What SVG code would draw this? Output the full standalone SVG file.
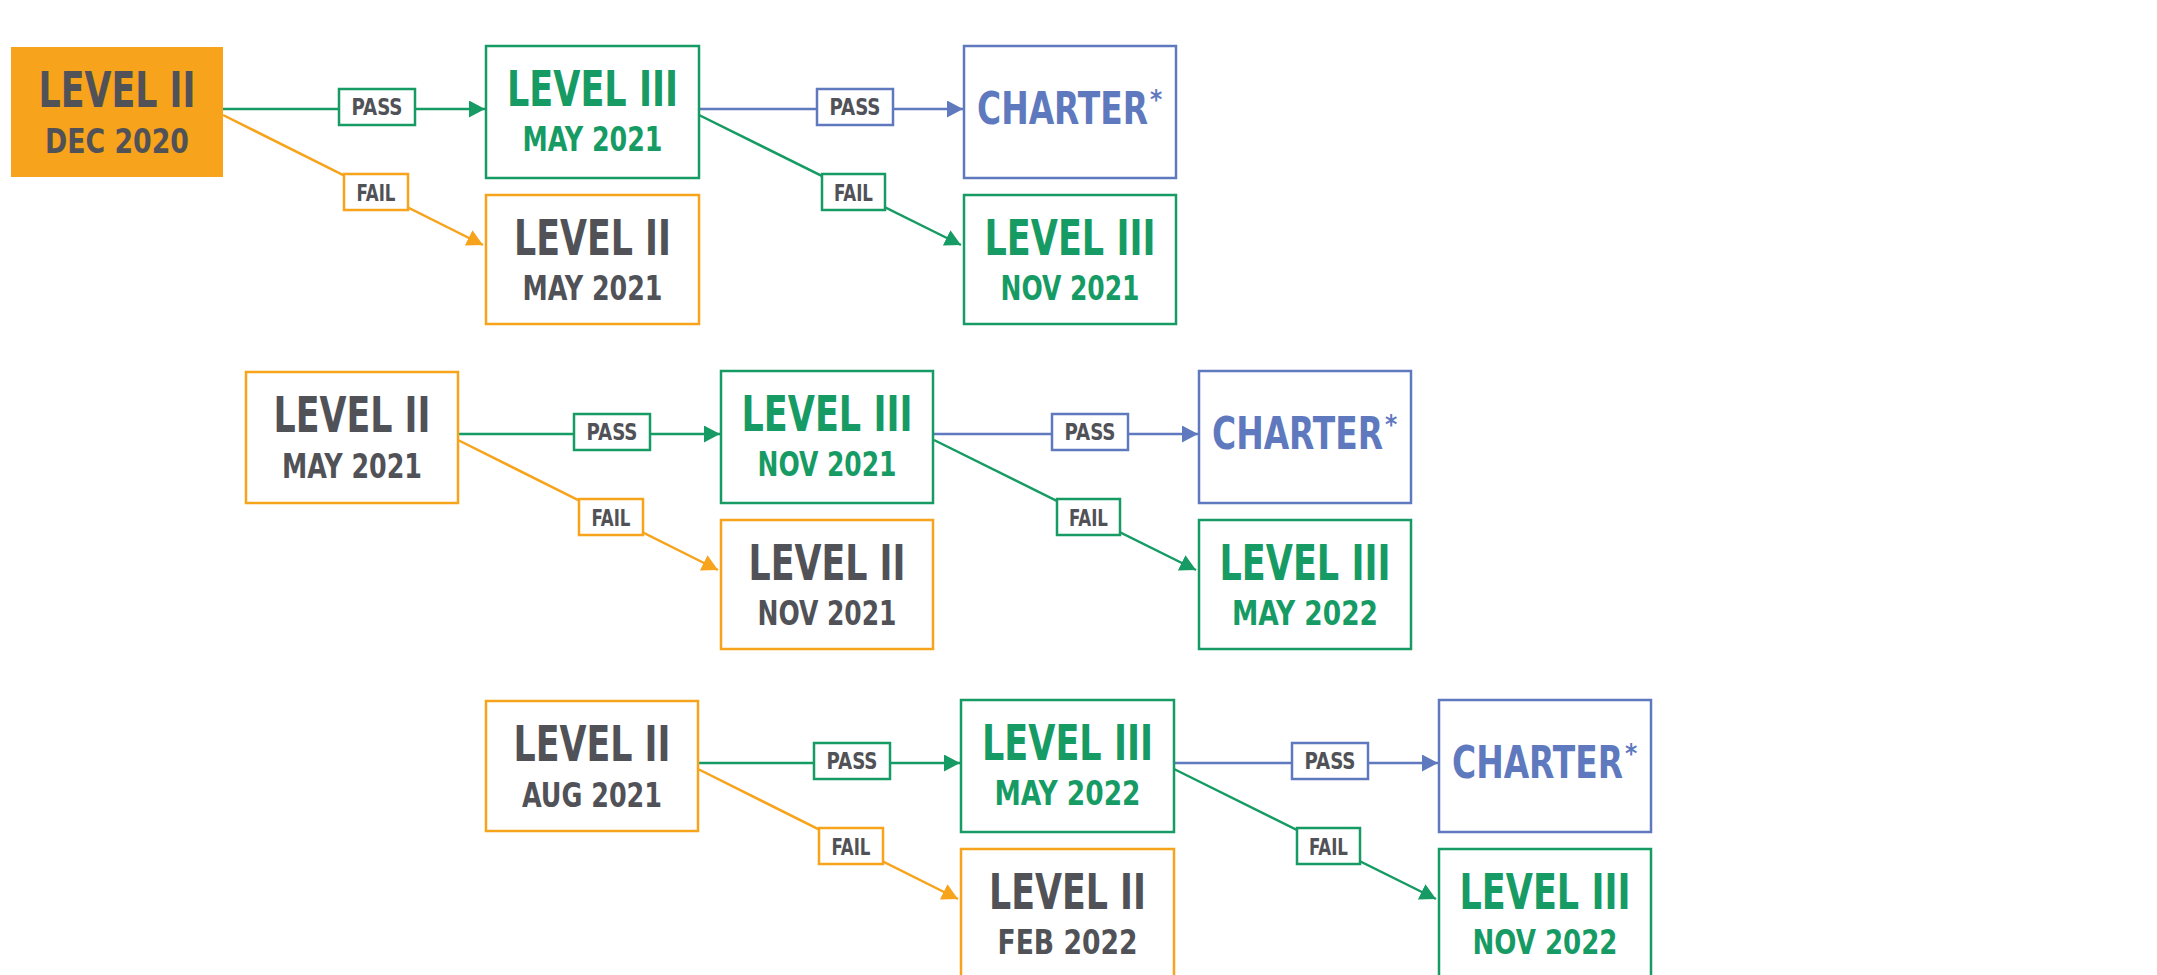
<svg xmlns="http://www.w3.org/2000/svg" width="2157" height="975" viewBox="0 0 2157 975">
<style>
.bg{fill:#ffffff}
.box{fill:#ffffff;stroke-width:2.5}
.o{stroke:#F7A31C}
.g{stroke:#169B64}
.b{stroke:#5F79BF}
.filled{fill:#F7A31C;stroke:none}
.t{font-family:"Liberation Sans Narrow","DejaVu Sans Condensed","Liberation Sans",sans-serif;font-weight:bold;text-anchor:middle}
.big{font-size:49px}
.date{font-size:34px}
.ch{font-size:44px;text-anchor:start;fill:#5F79BF}
.ast{font-size:26px;text-anchor:start;fill:#5F79BF}
.lab{font-size:23px;fill:#505257}
.gray{fill:#505257}
.green{fill:#169B64}
.line{fill:none;stroke-width:2.5}
</style>
<defs>
<marker id="ag" markerUnits="userSpaceOnUse" markerWidth="17" markerHeight="18" refX="16" refY="8.5" orient="auto"><path d="M0,0 L16,8.5 L0,17 z" fill="#169B64"/></marker>
<marker id="ao" markerUnits="userSpaceOnUse" markerWidth="17" markerHeight="18" refX="16" refY="8.5" orient="auto"><path d="M0,0 L16,8.5 L0,17 z" fill="#F7A31C"/></marker>
<marker id="ab" markerUnits="userSpaceOnUse" markerWidth="17" markerHeight="18" refX="16" refY="8.5" orient="auto"><path d="M0,0 L16,8.5 L0,17 z" fill="#5F79BF"/></marker>
</defs>
<rect class="bg" x="0" y="0" width="2157" height="975"/>

<g id="connectors">
  <!-- row 1 -->
  <path class="line g" d="M223,109 L485,109" marker-end="url(#ag)"/>
  <path class="line o" d="M223,115 L483,245" marker-end="url(#ao)"/>
  <path class="line b" d="M699,109 L963,109" marker-end="url(#ab)"/>
  <path class="line g" d="M699,115 L961,245" marker-end="url(#ag)"/>
  <!-- row 2 -->
  <path class="line g" d="M458,434 L720,434" marker-end="url(#ag)"/>
  <path class="line o" d="M458,440 L718,570" marker-end="url(#ao)"/>
  <path class="line b" d="M934,434 L1198,434" marker-end="url(#ab)"/>
  <path class="line g" d="M934,440 L1196,570" marker-end="url(#ag)"/>
  <!-- row 3 -->
  <path class="line g" d="M698,763 L960,763" marker-end="url(#ag)"/>
  <path class="line o" d="M698,769 L958,899" marker-end="url(#ao)"/>
  <path class="line b" d="M1174,763 L1438,763" marker-end="url(#ab)"/>
  <path class="line g" d="M1174,769 L1436,899" marker-end="url(#ag)"/>

  <!-- labels row 1 -->
  <g transform="translate(339,89)"><rect class="box g" width="76" height="36"/><text class="t lab" x="38" y="26" textLength="51" lengthAdjust="spacingAndGlyphs">PASS</text></g>
  <g transform="translate(344,174)"><rect class="box o" width="64" height="36"/><text class="t lab" x="32" y="27" textLength="39" lengthAdjust="spacingAndGlyphs">FAIL</text></g>
  <g transform="translate(817,89)"><rect class="box b" width="76" height="36"/><text class="t lab" x="38" y="26" textLength="51" lengthAdjust="spacingAndGlyphs">PASS</text></g>
  <g transform="translate(822,174)"><rect class="box g" width="63" height="36"/><text class="t lab" x="31.5" y="27" textLength="39" lengthAdjust="spacingAndGlyphs">FAIL</text></g>
  <!-- labels row 2 -->
  <g transform="translate(574,414)"><rect class="box g" width="76" height="36"/><text class="t lab" x="38" y="26" textLength="51" lengthAdjust="spacingAndGlyphs">PASS</text></g>
  <g transform="translate(579,499)"><rect class="box o" width="64" height="36"/><text class="t lab" x="32" y="27" textLength="39" lengthAdjust="spacingAndGlyphs">FAIL</text></g>
  <g transform="translate(1052,414)"><rect class="box b" width="76" height="36"/><text class="t lab" x="38" y="26" textLength="51" lengthAdjust="spacingAndGlyphs">PASS</text></g>
  <g transform="translate(1057,499)"><rect class="box g" width="63" height="36"/><text class="t lab" x="31.5" y="27" textLength="39" lengthAdjust="spacingAndGlyphs">FAIL</text></g>
  <!-- labels row 3 -->
  <g transform="translate(814,743)"><rect class="box g" width="76" height="36"/><text class="t lab" x="38" y="26" textLength="51" lengthAdjust="spacingAndGlyphs">PASS</text></g>
  <g transform="translate(819,828)"><rect class="box o" width="64" height="36"/><text class="t lab" x="32" y="27" textLength="39" lengthAdjust="spacingAndGlyphs">FAIL</text></g>
  <g transform="translate(1292,743)"><rect class="box b" width="76" height="36"/><text class="t lab" x="38" y="26" textLength="51" lengthAdjust="spacingAndGlyphs">PASS</text></g>
  <g transform="translate(1297,828)"><rect class="box g" width="63" height="36"/><text class="t lab" x="31.5" y="27" textLength="39" lengthAdjust="spacingAndGlyphs">FAIL</text></g>
</g>

<!-- Row 1 -->
<g id="n-l2-dec2020" transform="translate(11,47)">
  <rect class="filled" width="212" height="130"/>
  <text class="t big gray" x="106" y="60" textLength="157" lengthAdjust="spacingAndGlyphs">LEVEL II</text>
  <text class="t date gray" x="106" y="106" textLength="144" lengthAdjust="spacingAndGlyphs">DEC 2020</text>
</g>
<g id="n-l3-may2021-a" transform="translate(486,46)">
  <rect class="box g" width="213" height="132"/>
  <text class="t big green" x="106.5" y="60" textLength="171" lengthAdjust="spacingAndGlyphs">LEVEL III</text>
  <text class="t date green" x="106.5" y="105" textLength="140" lengthAdjust="spacingAndGlyphs">MAY 2021</text>
</g>
<g id="n-l2-may2021-a" transform="translate(486,195)">
  <rect class="box o" width="213" height="129"/>
  <text class="t big gray" x="106.5" y="60" textLength="157" lengthAdjust="spacingAndGlyphs">LEVEL II</text>
  <text class="t date gray" x="106.5" y="105" textLength="140" lengthAdjust="spacingAndGlyphs">MAY 2021</text>
</g>
<g id="n-charter-1" transform="translate(964,46)">
  <rect class="box b" width="212" height="132"/>
  <text class="t ch" x="13" y="78" textLength="171" lengthAdjust="spacingAndGlyphs">CHARTER</text>
  <text class="t ast" x="186" y="63">*</text>
</g>
<g id="n-l3-nov2021-a" transform="translate(964,195)">
  <rect class="box g" width="212" height="129"/>
  <text class="t big green" x="106" y="60" textLength="171" lengthAdjust="spacingAndGlyphs">LEVEL III</text>
  <text class="t date green" x="106" y="105" textLength="139" lengthAdjust="spacingAndGlyphs">NOV 2021</text>
</g>

<!-- Row 2 -->
<g id="n-l2-may2021-b" transform="translate(246,372)">
  <rect class="box o" width="212" height="131"/>
  <text class="t big gray" x="106" y="60" textLength="157" lengthAdjust="spacingAndGlyphs">LEVEL II</text>
  <text class="t date gray" x="106" y="106" textLength="140" lengthAdjust="spacingAndGlyphs">MAY 2021</text>
</g>
<g id="n-l3-nov2021-b" transform="translate(721,371)">
  <rect class="box g" width="212" height="132"/>
  <text class="t big green" x="106" y="60" textLength="171" lengthAdjust="spacingAndGlyphs">LEVEL III</text>
  <text class="t date green" x="106" y="105" textLength="139" lengthAdjust="spacingAndGlyphs">NOV 2021</text>
</g>
<g id="n-l2-nov2021" transform="translate(721,520)">
  <rect class="box o" width="212" height="129"/>
  <text class="t big gray" x="106" y="60" textLength="157" lengthAdjust="spacingAndGlyphs">LEVEL II</text>
  <text class="t date gray" x="106" y="105" textLength="139" lengthAdjust="spacingAndGlyphs">NOV 2021</text>
</g>
<g id="n-charter-2" transform="translate(1199,371)">
  <rect class="box b" width="212" height="132"/>
  <text class="t ch" x="13" y="78" textLength="171" lengthAdjust="spacingAndGlyphs">CHARTER</text>
  <text class="t ast" x="186" y="63">*</text>
</g>
<g id="n-l3-may2022-a" transform="translate(1199,520)">
  <rect class="box g" width="212" height="129"/>
  <text class="t big green" x="106" y="60" textLength="171" lengthAdjust="spacingAndGlyphs">LEVEL III</text>
  <text class="t date green" x="106" y="105" textLength="146" lengthAdjust="spacingAndGlyphs">MAY 2022</text>
</g>

<!-- Row 3 -->
<g id="n-l2-aug2021" transform="translate(486,701)">
  <rect class="box o" width="212" height="130"/>
  <text class="t big gray" x="106" y="60" textLength="157" lengthAdjust="spacingAndGlyphs">LEVEL II</text>
  <text class="t date gray" x="106" y="106" textLength="140" lengthAdjust="spacingAndGlyphs">AUG 2021</text>
</g>
<g id="n-l3-may2022-b" transform="translate(961,700)">
  <rect class="box g" width="213" height="132"/>
  <text class="t big green" x="106.5" y="60" textLength="171" lengthAdjust="spacingAndGlyphs">LEVEL III</text>
  <text class="t date green" x="106.5" y="105" textLength="146" lengthAdjust="spacingAndGlyphs">MAY 2022</text>
</g>
<g id="n-l2-feb2022" transform="translate(961,849)">
  <rect class="box o" width="213" height="129"/>
  <text class="t big gray" x="106.5" y="60" textLength="157" lengthAdjust="spacingAndGlyphs">LEVEL II</text>
  <text class="t date gray" x="106.5" y="105" textLength="140" lengthAdjust="spacingAndGlyphs">FEB 2022</text>
</g>
<g id="n-charter-3" transform="translate(1439,700)">
  <rect class="box b" width="212" height="132"/>
  <text class="t ch" x="13" y="78" textLength="171" lengthAdjust="spacingAndGlyphs">CHARTER</text>
  <text class="t ast" x="186" y="63">*</text>
</g>
<g id="n-l3-nov2022" transform="translate(1439,849)">
  <rect class="box g" width="212" height="129"/>
  <text class="t big green" x="106" y="60" textLength="171" lengthAdjust="spacingAndGlyphs">LEVEL III</text>
  <text class="t date green" x="106" y="105" textLength="145" lengthAdjust="spacingAndGlyphs">NOV 2022</text>
</g>
</svg>
